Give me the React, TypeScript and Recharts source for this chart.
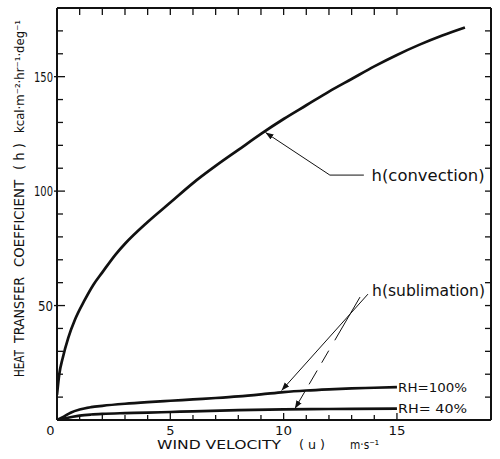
import React from 'react';
import { LineChart, Line, XAxis, YAxis, ReferenceLine, ReferenceDot } from 'recharts';

// ---- data ----
const convX = [0, 0.1, 0.25, 0.5, 0.8, 1.2, 1.6, 2, 2.6, 3, 4, 5, 6, 7, 8, 9, 10, 11, 12, 13, 14, 15, 16, 17, 18];
const convH = [11, 20, 27, 36, 44, 52, 59, 64.5, 72.5, 77, 86.5, 95, 103.5, 111, 118, 125, 131.5, 137.5, 143.5, 149, 154.5, 159.5, 164, 168, 171.5];

const rh100X = [0, 0.3, 0.6, 1, 1.5, 2, 3, 4, 5, 6, 7, 8, 9, 10, 11, 12, 13, 14, 15];
const rh100H = [0, 1.5, 3.2, 4.6, 5.6, 6.2, 7.1, 7.8, 8.4, 9.0, 9.6, 10.3, 11.2, 12.2, 12.9, 13.4, 13.8, 14.1, 14.4];

const rh40X = [0, 0.3, 0.7, 1, 1.5, 2, 3, 4, 5, 6, 8, 10, 12, 15];
const rh40H = [0, 0.6, 1.4, 1.9, 2.4, 2.7, 3.0, 3.2, 3.5, 3.8, 4.3, 4.6, 4.8, 5.0];

const xTicks = [0, 1, 2, 3, 4, 5, 6, 7, 8, 9, 10, 11, 12, 13, 14, 15];
const xTickLabels = [0, 5, 10, 15];
const yTicks = [10, 20, 30, 40, 50, 60, 70, 80, 90, 100, 110, 120, 130, 140, 150, 160, 170];
const yTickLabels = [50, 100, 150];

const X_DOMAIN: [number, number] = [0, 19.15];
const Y_DOMAIN: [number, number] = [0, 180];

const zip = (xs: number[], ys: number[]) => xs.map((u, i) => ({ u, h: ys[i] }));
const convData = zip(convX, convH);
const rh100Data = zip(rh100X, rh100H);
const rh40Data = zip(rh40X, rh40H);

const FONT = "'DejaVu Sans', sans-serif";
const INK = '#111';

const BottomTick = (props: any) => {
  const { x, y, payload } = props;
  const v = payload.value;
  const labeled = xTickLabels.includes(v);
  const s = String(v);
  return (
    <g>
      {v > 0 && <line x1={x} y1={y} x2={x} y2={y - (labeled ? 7 : 5)} stroke={INK} strokeWidth={1.3} />}
      {labeled && (
        <text x={v === 0 ? x - 6.5 : x} y={y + 15} textAnchor="middle" fontSize={13} fontFamily={FONT} fill={INK}
          {...(s.length > 1 ? { textLength: 17, lengthAdjust: 'spacingAndGlyphs' } : {})}>{s}</text>
      )}
    </g>
  );
};

const TopTick = (props: any) => {
  const { x, y, payload } = props;
  if (payload.value <= 0) return <g />;
  return <line x1={x} y1={y} x2={x} y2={y + 7} stroke={INK} strokeWidth={1.3} />;
};

const LeftTick = (props: any) => {
  const { x, y, payload } = props;
  const v = payload.value;
  const labeled = yTickLabels.includes(v);
  const s = String(v);
  return (
    <g>
      <line x1={labeled ? x - 3 : x} y1={y} x2={x + (labeled ? 8 : 6)} y2={y} stroke={INK} strokeWidth={1.3} />
      {labeled && (
        <text x={x - 4} y={y + 5} textAnchor="end" fontSize={14} fontFamily={FONT} fill={INK}
          textLength={s.length === 3 ? 19 : 15} lengthAdjust="spacingAndGlyphs">{s}</text>
      )}
    </g>
  );
};

const RightTick = (props: any) => {
  const { x, y } = props;
  return <line x1={x} y1={y} x2={x - 6} y2={y} stroke={INK} strokeWidth={1.3} />;
};

const textShape = (label: string, size: number, len?: number) => (p: any) => (
  <text x={p.cx} y={p.cy} dy="0.35em" fontSize={size} fontFamily={FONT} fill={INK}
    {...(len ? { textLength: len, lengthAdjust: 'spacingAndGlyphs' } : {})}>{label}</text>
);

export default function App() {
  return (
    <div style={{ position: 'absolute', left: 0, top: 0, width: 500, height: 459, background: '#fff' }}>
      <LineChart width={500} height={459} margin={{ top: 7, right: 8, bottom: 38, left: 56 }}>
        <defs>
          <marker id="arrowHead" markerUnits="userSpaceOnUse" markerWidth="9" markerHeight="7" refX="8" refY="3.5" orient="auto">
            <path d="M0,0.5 L8,3.5 L0,6.5 Z" fill={INK} />
          </marker>
        </defs>
        <XAxis xAxisId="bottom" dataKey="u" type="number" domain={X_DOMAIN} ticks={xTicks} interval={0}
          allowDataOverflow height={1} tickSize={0} tickMargin={0} tickLine={false}
          axisLine={{ stroke: INK, strokeWidth: 2 }} tick={<BottomTick />} />
        <XAxis xAxisId="top" orientation="top" dataKey="u" type="number" domain={X_DOMAIN} ticks={xTicks} interval={0}
          allowDataOverflow height={1} tickSize={0} tickMargin={0} tickLine={false}
          axisLine={{ stroke: INK, strokeWidth: 2 }} tick={<TopTick />} />
        <YAxis yAxisId="left" type="number" domain={Y_DOMAIN} ticks={yTicks} interval={0}
          allowDataOverflow width={1} tickSize={0} tickMargin={0} tickLine={false}
          axisLine={{ stroke: INK, strokeWidth: 2 }} tick={<LeftTick />} />
        <YAxis yAxisId="right" orientation="right" type="number" domain={Y_DOMAIN} ticks={yTicks} interval={0}
          allowDataOverflow width={1} tickSize={0} tickMargin={0} tickLine={false}
          axisLine={{ stroke: INK, strokeWidth: 2 }} tick={<RightTick />} />

        <Line xAxisId="bottom" yAxisId="left" data={convData} dataKey="h" type="monotone" dot={false}
          stroke={INK} strokeWidth={2.7} isAnimationActive={false} />
        <Line xAxisId="bottom" yAxisId="left" data={rh100Data} dataKey="h" type="monotone" dot={false}
          stroke={INK} strokeWidth={2.7} isAnimationActive={false} />
        <Line xAxisId="bottom" yAxisId="left" data={rh40Data} dataKey="h" type="monotone" dot={false}
          stroke={INK} strokeWidth={2.7} isAnimationActive={false} />

        {/* h(convection) leader */}
        <ReferenceLine xAxisId="bottom" yAxisId="left" segment={[{ x: 13.54, y: 107 }, { x: 12.04, y: 107 }]}
          stroke={INK} strokeWidth={1} />
        <ReferenceLine xAxisId="bottom" yAxisId="left" segment={[{ x: 12.04, y: 107 }, { x: 9.2, y: 125.6 }]}
          stroke={INK} strokeWidth={1} markerEnd="url(#arrowHead)" />
        <ReferenceDot xAxisId="bottom" yAxisId="left" x={13.88} y={106.6} r={0}
          shape={textShape('h(convection)', 15, 113)} />

        {/* h(sublimation) leaders */}
        <ReferenceLine xAxisId="bottom" yAxisId="left" segment={[{ x: 13.72, y: 55.0 }, { x: 9.91, y: 12.9 }]}
          stroke={INK} strokeWidth={1} markerEnd="url(#arrowHead)" />
        <ReferenceLine xAxisId="bottom" yAxisId="left" segment={[{ x: 13.37, y: 53.7 }, { x: 10.5, y: 5.0 }]}
          stroke={INK} strokeWidth={1} strokeDasharray="50 12 14 9 16 8 40" markerEnd="url(#arrowHead)" />
        <ReferenceDot xAxisId="bottom" yAxisId="left" x={13.9} y={56.4} r={0}
          shape={textShape('h(sublimation)', 15, 113)} />

        <ReferenceDot xAxisId="bottom" yAxisId="left" x={15.05} y={14.4} r={0}
          shape={textShape('RH=100%', 13, 69)} />
        <ReferenceDot xAxisId="bottom" yAxisId="left" x={15.05} y={5.0} r={0}
          shape={textShape('RH= 40%', 13, 69)} />

        {/* axis titles */}
        <g fontFamily={FONT} fill={INK}>
          <g transform="rotate(-90)" fontSize={14}>
            <text x={-377} y={24} textLength={27} lengthAdjust="spacingAndGlyphs">HEAT</text>
            <text x={-343} y={24} textLength={66} lengthAdjust="spacingAndGlyphs">TRANSFER</text>
            <text x={-267} y={24} textLength={87} lengthAdjust="spacingAndGlyphs">COEFFICIENT</text>
            <text x={-170} y={24} textLength={27} lengthAdjust="spacingAndGlyphs">( h )</text>
            <text x={-133} y={24} fontSize={12.5} textLength={113} lengthAdjust="spacingAndGlyphs">kcal·m⁻²·hr⁻¹·deg⁻¹</text>
          </g>
          <g fontSize={13}>
            <text x={157} y={449} textLength={124} lengthAdjust="spacingAndGlyphs">WIND VELOCITY</text>
            <text x={299} y={449} textLength={26} lengthAdjust="spacingAndGlyphs">( u )</text>
            <text x={350} y={449} textLength={29} lengthAdjust="spacingAndGlyphs">m·s⁻¹</text>
          </g>
        </g>
      </LineChart>
    </div>
  );
}
